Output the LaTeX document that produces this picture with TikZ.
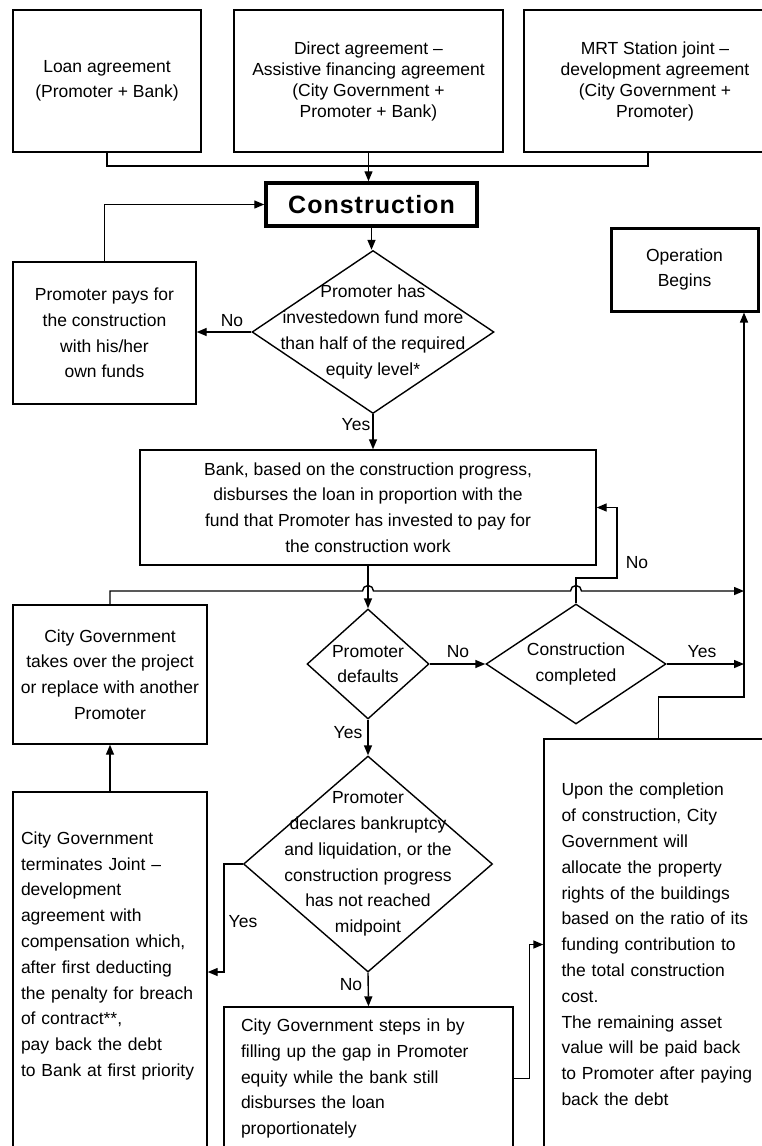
\documentclass[tikz,border=0pt]{standalone}
\usepackage{fontspec}
\setmainfont{Liberation Sans}
\usetikzlibrary{shapes.geometric,arrows.meta}
\newcommand\bodysize{\fontsize{17.5}{25.8}\selectfont}
\newcommand\topsize{\fontsize{17.5}{21}\selectfont}
\newcommand\consize{\fontsize{25}{30}\selectfont\bfseries\addfontfeature{LetterSpace=4}}
\begin{document}
\begin{tikzpicture}[x=1pt, y=-1pt, line width=1.4pt,
    box/.style={draw, rectangle, inner sep=0pt, align=center, font=\bodysize},
    topbox/.style={box, font=\topsize},
    leftbox/.style={box, align=left},
    decision/.style={draw, diamond, inner sep=0pt},
    dtext/.style={align=center, font=\bodysize},
    lbl/.style={font=\bodysize, inner sep=1pt},
    arr/.style={-{Triangle[length=10pt, width=8pt]}}]
  \useasboundingbox (0,0) rectangle (762,1146);
  \fill[white] (0,0) rectangle (762,1146);
  \clip (0,0) rectangle (762,1146);

  % agreements
  \node[box, minimum width=188pt, minimum height=142pt] (loan) at (107,81) {Loan agreement\\[-1pt](Promoter + Bank)};
  \node[topbox, minimum width=269pt, minimum height=142pt] (direct) at (368.5,81) {Direct agreement –\\Assistive financing agreement\\(City Government +\\Promoter + Bank)};
  \node[topbox, minimum width=262pt, minimum height=142pt] (mrt) at (655,81) {MRT Station joint –\\development agreement\\(City Government +\\Promoter)};

  \node[box, line width=3.5pt, minimum width=211pt, minimum height=43pt, font=\consize] (cons) at (371.5,204.5) {Construction};
  \node[box, minimum width=183pt, minimum height=142pt] (pays) at (104.5,333) {Promoter pays for\\the construction\\with his/her\\own funds};
  \node[decision, minimum width=242pt, minimum height=163pt,
    label={[dtext]center:{Promoter has\\investedown fund more\\than half of the required\\equity level*}}] (d1) at (373,332) {};
  \node[box, line width=3pt, minimum width=147pt, minimum height=83pt] (opb) at (684.5,269.5) {Operation\\Begins};
  \node[box, minimum width=456pt, minimum height=115pt] (bank) at (368,507.5) {Bank, based on the construction progress,\\disburses the loan in proportion with the\\fund that Promoter has invested to pay for\\the construction work};

  % checks during construction
  \node[box, minimum width=194pt, minimum height=139pt] (take) at (110,674.5) {City Government\\takes over the project\\or replace with another\\Promoter};
  \node[decision, minimum width=122pt, minimum height=110pt,
    label={[dtext]center:{Promoter\\defaults}}] (dft) at (368,664) {};
  \node[decision, minimum width=180pt, minimum height=120pt,
    label={[dtext]center:{Construction\\completed}}] (cc) at (576,664) {};
  \node[decision, minimum width=249pt, minimum height=216pt,
    label={[dtext]center:{Promoter\\declares bankruptcy\\and liquidation, or the\\construction progress\\has not reached\\midpoint}}] (bk) at (368,864) {};

  % outcomes
  \node[leftbox, text width=178pt, text depth=266pt, minimum width=194pt, minimum height=358pt] (term) at (110,971) {City Government\\terminates Joint –\\development\\agreement with\\compensation which,\\after first deducting\\the penalty for breach\\of contract**,\\pay back the debt\\to Bank at first priority};
  \node[leftbox, text width=255pt, minimum width=289pt, minimum height=143pt] (steps) at (368.5,1078.5) {City Government steps in by\\filling up the gap in Promoter\\equity while the bank still\\disburses the loan\\proportionately};
  \node[leftbox, text width=194pt, minimum width=229pt, minimum height=411pt] (upon) at (658.5,944.5) {Upon the completion\\of construction, City\\Government will\\allocate the property\\rights of the buildings\\based on the ratio of its\\funding contribution to\\the total construction\\cost.\\The remaining asset\\value will be paid back\\to Promoter after paying\\back the debt};

  \coordinate (topbus) at (372,166);
  \coordinate (busend) at (744,591);
  \coordinate (trunk) at (744,697);
  \coordinate (loop) at (617,578);
  \coordinate (yesturn) at (224,972);

  % connectors
  \draw (loan.south) |- (topbus) -| ([xshift=-7pt]mrt.south);
  \draw[arr] (direct.south) -- (direct.south |- cons.north);
  \draw[arr] (pays.north) |- (cons.west);
  \draw[arr] (cons.south) -- (cons.south |- d1.north);
  \draw[arr] (d1.west) -- (d1.west -| pays.east);
  \draw[arr] (d1.south) -- (d1.south |- bank.north);
  \draw[arr] (bank.south) -- (dft.north);
  \draw[arr] (cc.north) |- (loop) |- (bank.east);
  \draw[arr] (take.north) |- (362.5,591) arc[start angle=180, end angle=0, radius=5.5pt]
    -- (570.5,591) arc[start angle=180, end angle=0, radius=5.5pt] -- (busend);
  \draw[arr] (dft.east) -- (cc.west);
  \draw[arr] (cc.east) -- (cc.east -| trunk);
  \draw[arr] (upon.north) |- (trunk) -- (trunk |- opb.south);
  \draw[arr] (term.north) -- (take.south);
  \draw[arr] (dft.south) -- (bk.north);
  \draw[arr] (bk.west) -| (yesturn) -- (yesturn -| term.east);
  \draw[arr] (bk.south) -- (steps.north);
  \draw[arr] (steps.east) -- ++(16,0) |- (upon.west);

  \node[lbl] (no1) at (232,321) {No};
  \node[lbl] (yes1) at (356,425) {Yes};
  \node[lbl] (no2) at (637,563) {No};
  \node[lbl] (no3) at (458,652) {No};
  \node[lbl] (yes2) at (702,652) {Yes};
  \node[lbl] (yes3) at (348,733) {Yes};
  \node[lbl] (yes4) at (243,922) {Yes};
  \node[lbl] (no4) at (351,985) {No};
\end{tikzpicture}
\end{document}
